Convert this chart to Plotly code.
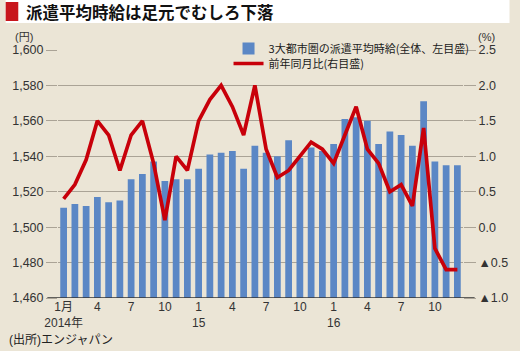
import plotly.graph_objects as go

months = ["2014-01", "2014-02", "2014-03", "2014-04", "2014-05", "2014-06",
          "2014-07", "2014-08", "2014-09", "2014-10", "2014-11", "2014-12",
          "2015-01", "2015-02", "2015-03", "2015-04", "2015-05", "2015-06",
          "2015-07", "2015-08", "2015-09", "2015-10", "2015-11", "2015-12",
          "2016-01", "2016-02", "2016-03", "2016-04", "2016-05", "2016-06",
          "2016-07", "2016-08", "2016-09", "2016-10", "2016-11", "2016-12"]

wage = [1511, 1513, 1512, 1517, 1514, 1515, 1527, 1530, 1537, 1526, 1527, 1527,
        1533, 1541, 1542, 1543, 1533, 1546, 1542, 1540, 1549, 1539, 1545, 1543,
        1547, 1561, 1562, 1560, 1547, 1554, 1552, 1546, 1571, 1537, 1535, 1535]

yoy = [0.4, 0.6, 0.95, 1.5, 1.3, 0.8, 1.3, 1.5, 0.9, 0.1, 1.0, 0.8,
       1.5, 1.8, 2.0, 1.7, 1.3, 2.0, 1.1, 0.7, 0.8, 1.0, 1.2, 1.1,
       0.9, 1.3, 1.7, 1.1, 0.9, 0.5, 0.6, 0.3, 1.4, -0.3, -0.6, -0.6]

x_tickvals = ["2014-01", "2014-04", "2014-07", "2014-10",
              "2015-01", "2015-04", "2015-07", "2015-10",
              "2016-01", "2016-04", "2016-07", "2016-10"]
x_ticktext = ["1月<br>2014年", "4", "7", "10", "1<br>15", "4", "7", "10",
              "1<br>16", "4", "7", "10"]

y1_vals = [1460, 1480, 1500, 1520, 1540, 1560, 1580, 1600]
y2_vals = [-1.0, -0.5, 0.0, 0.5, 1.0, 1.5, 2.0, 2.5]
y2_text = ["▲1.0", "▲0.5", "0.0", "0.5", "1.0", "1.5", "2.0", "2.5"]

name_bar = "3大都市圏の派遣平均時給(全体、左目盛)"
name_line = "前年同月比(右目盛)"

BG = "#ebe5d6"
GRID = "#aaa396"
FONT = "Liberation Sans, Noto Sans CJK JP, DejaVu Sans, sans-serif"
LEGFONT = "Noto Sans CJK JP, sans-serif"

# plot area in pixels
L, R, T, B = 54, 472, 50, 298
W, H = 520, 351
def xp(X):
    return (X - L) / (R - L)
def yp(Y):
    return (B - Y) / (B - T)

fig = go.Figure()
fig.add_trace(go.Bar(x=months, y=wage, name=name_bar, marker_color="#5b87c5",
                     marker_line_width=0, yaxis="y", legend="legend"))
fig.add_trace(go.Scatter(x=months, y=yoy, name=name_line, mode="lines",
                         line=dict(color="#c8000a", width=3.7), yaxis="y2",
                         legend="legend2"))

leg_common = dict(xanchor="left", yanchor="top", bgcolor="rgba(0,0,0,0)",
                  borderwidth=0,
                  font=dict(size=11, color="#1a1a1a", family=LEGFONT),
                  itemwidth=30)

fig.update_layout(
    width=W, height=H,
    margin=dict(l=L, r=W - R, t=T, b=H - B, pad=0),
    paper_bgcolor=BG, plot_bgcolor="rgba(0,0,0,0)",
    font=dict(family=FONT, size=12, color="#333333"),
    bargap=0.4,
    showlegend=True,
    legend=dict(x=xp(230), y=yp(34), **leg_common),
    legend2=dict(x=xp(230), y=yp(49), **leg_common),
    xaxis=dict(type="category", categoryorder="array", categoryarray=months,
               tickmode="array", tickvals=x_tickvals, ticktext=x_ticktext,
               showgrid=False, ticks="", showline=False, zeroline=False,
               tickfont=dict(size=12, color="#333333")),
    yaxis=dict(range=[1460, 1600], tickmode="array", tickvals=y1_vals,
               tickformat=",d", showgrid=True, gridcolor=GRID, gridwidth=1,
               ticks="outside", ticklen=11, tickcolor=GRID, zeroline=False,
               showline=False, tickfont=dict(size=12.5, color="#333333")),
    yaxis2=dict(range=[-1.0, 2.5], overlaying="y", side="right",
                tickmode="array", tickvals=y2_vals, ticktext=y2_text,
                showgrid=False, ticks="outside", ticklen=12, tickcolor=GRID,
                zeroline=False, showline=False,
                tickfont=dict(size=12.5, color="#333333")),
)

shapes = [
    dict(type="rect", xref="paper", yref="paper", x0=xp(0), x1=xp(W),
         y0=yp(23), y1=yp(0), fillcolor="white", line_width=0, layer="below"),
    dict(type="rect", xref="paper", yref="paper", x0=xp(0), x1=xp(13),
         y0=yp(21), y1=yp(2), fillcolor="#c8161d", line_width=0),
    # legend backdrop hiding the top gridline behind the legend text
    dict(type="rect", xref="paper", yref="paper", x0=xp(250), x1=1.0,
         y0=yp(56), y1=yp(44), fillcolor=BG, line_width=0, layer="above"),
    dict(type="line", xref="paper", yref="y", x0=xp(43), x1=xp(484),
         y0=1460, y1=1460, line=dict(color="#333333", width=1.5)),
]
fig.update_layout(shapes=shapes)

annotations = [
    dict(text="<b>派遣平均時給は足元でむしろ下落</b>", xref="paper", yref="paper",
         x=xp(19), y=yp(12), xanchor="left", yanchor="middle", showarrow=False,
         font=dict(size=16.5, color="#111111", family="Noto Sans CJK JP")),
    dict(text="(円)", xref="paper", yref="paper", x=xp(8), y=yp(37),
         xanchor="left", yanchor="middle", showarrow=False,
         font=dict(size=11, color="#333333")),
    dict(text="(%)", xref="paper", yref="paper", x=xp(485), y=yp(37),
         xanchor="left", yanchor="middle", showarrow=False,
         font=dict(size=11, color="#333333")),
    dict(text="(出所)エンジャパン", xref="paper", yref="paper", x=xp(1), y=yp(340),
         xanchor="left", yanchor="middle", showarrow=False,
         font=dict(size=12, color="#222222")),
]
fig.update_layout(annotations=annotations)

fig.write_html("out.html")
